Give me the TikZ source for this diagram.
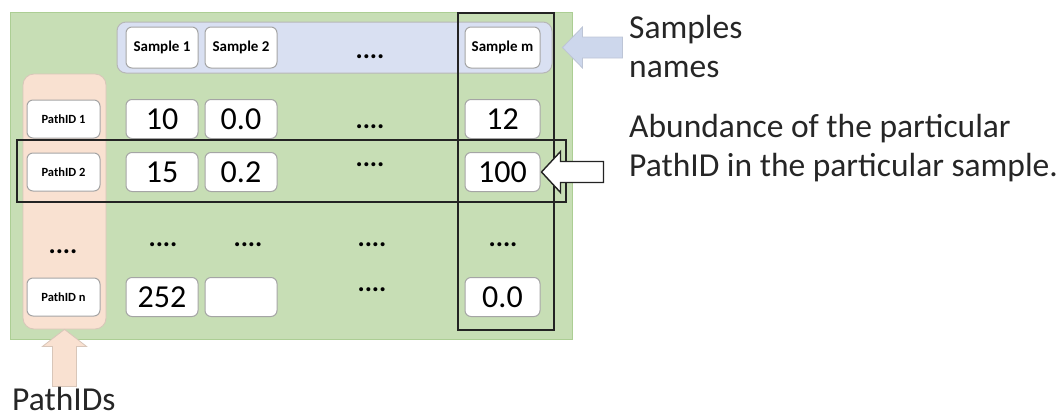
\documentclass[tikz,border=0pt]{standalone}
\usepackage{fontspec}
\setmainfont{Carlito}
\usetikzlibrary{positioning}
\definecolor{panelgreen}{RGB}{199,222,181}
\definecolor{paneledge}{RGB}{172,206,148}
\definecolor{bandblue}{RGB}{217,224,242}
\definecolor{arrowblue}{RGB}{205,215,236}
\definecolor{idpink}{RGB}{249,225,209}
\definecolor{boxedge}{RGB}{165,165,165}
\definecolor{framedark}{RGB}{35,35,35}
\tikzset{x=1pt, y=-1pt,
cell/.style={ % value boxes
draw=boxedge, fill=white, line width=1pt,
rounded corners=6pt, inner sep=0pt,
minimum width=72pt, minimum height=39pt,
font=\fontsize{32}{32}\selectfont},
headcell/.style={cell, minimum height=41pt,
font=\fontsize{15}{15}\selectfont\bfseries},
idcell/.style={cell, minimum width=73pt, minimum height=38pt,
font=\fontsize{12.5}{12.5}\selectfont\bfseries},
dots/.style={inner sep=0pt, font=\fontsize{27}{27}\selectfont\bfseries},
note/.style={inner sep=0pt, anchor=base west, text=black!85,
font=\fontsize{33.5}{33.5}\selectfont},
frame/.style={draw=framedark, line width=1.6pt}}

\begin{document}
\begin{tikzpicture}
\useasboundingbox (0,0) rectangle (1060,418);
% panels
\node[draw=paneledge, fill=panelgreen, line width=1pt, minimum width=562pt, minimum height=327pt] (panel) at (291,175.5) {};
\node[draw=boxedge!80, fill=bandblue, line width=1pt, rounded corners=9pt, minimum width=435pt, minimum height=51pt] (band) at (334.5,47.5) {};
\node[draw=idpink!85!black!90, fill=idpink, line width=0.8pt, rounded corners=11pt, minimum width=83pt, minimum height=255pt] (idcol) at (64.5,201.5) {};

% header row
\node[headcell] (s1) at (162,47.5) {Sample 1};
\node[headcell, right=6pt of s1] (s2) {Sample 2};
\node[dots] (sdots) at (370,57) {....};
\node[headcell, minimum width=75pt] (sm) at (502.5,47.5) {Sample m};

% row 1
\node[idcell] (p1) at (63.5,119) {PathID 1};
\node[cell] (v11) at (162,119) {10};
\node[cell, right=6pt of v11] (v12) {0.0};
\node[dots] (d1) at (370,127) {....};
\node[cell, minimum width=75pt] (v1m) at (502.5,119) {12};

% row 2
\node[idcell] (p2) at (63.5,172) {PathID 2};
\node[cell] (v21) at (162,172) {15};
\node[cell, right=6pt of v21] (v22) {0.2};
\node[dots] (d2) at (370,165) {....};
\node[cell, minimum width=75pt] (v2m) at (502.5,172) {100};

% skipped rows
\node[dots] (pdots) at (63,252) {....};
\node[dots] (c1dots) at (163,245) {....};
\node[dots] (c2dots) at (248,245) {....};
\node[dots] (c3dots) at (372,245) {....};
\node[dots] (cmdots) at (503,245) {....};

% row n
\node[idcell] (pn) at (63.5,297) {PathID n};
\node[cell] (vn1) at (162,297) {252};
\node[cell, right=6pt of vn1] (vn2) {};
\node[dots] (dn) at (372,290) {....};
\node[cell, minimum width=75pt] (vnm) at (502.5,297) {0.0};

% highlight frames
\draw[frame] (458,13) rectangle (554,330);
\draw[frame] (17,140) rectangle (566,202);

% block arrows
\coordinate (namestip) at ([xshift=10pt]band.east);
\draw[draw=arrowblue!80!gray, fill=arrowblue, line width=0.8pt] (namestip) -- ++(20,-20.5) -- ++(0,10) -- ++(40,0) -- ++(0,21) -- ++(-40,0) -- ++(0,10) -- cycle;
\coordinate (valtip) at ([xshift=1pt]v2m.east);
\draw[draw=framedark, fill=white, line width=1.4pt] (valtip) -- ++(19,-20.5) -- ++(0,10) -- ++(43,0) -- ++(0,21) -- ++(-43,0) -- ++(0,10) -- cycle;
\coordinate (idtip) at (idcol.south);
\draw[draw=idpink!85!black!90, fill=idpink, line width=0.8pt] (idtip) -- ++(22,17) -- ++(-10,0) -- ++(0,40) -- ++(-24,0) -- ++(0,-40) -- ++(-10,0) -- cycle;

% notes
\node[note] (samples) at (629,38) {Samples};
\node[note] (names) at (629,77) {names};
\node[note] (abund) at (629,137) {Abundance of the particular};
\node[note] (abundb) at (629,176) {PathID in the particular sample.};
\node[note] (pathids) at (12,410) {PathIDs};
\end{tikzpicture}
\end{document}
